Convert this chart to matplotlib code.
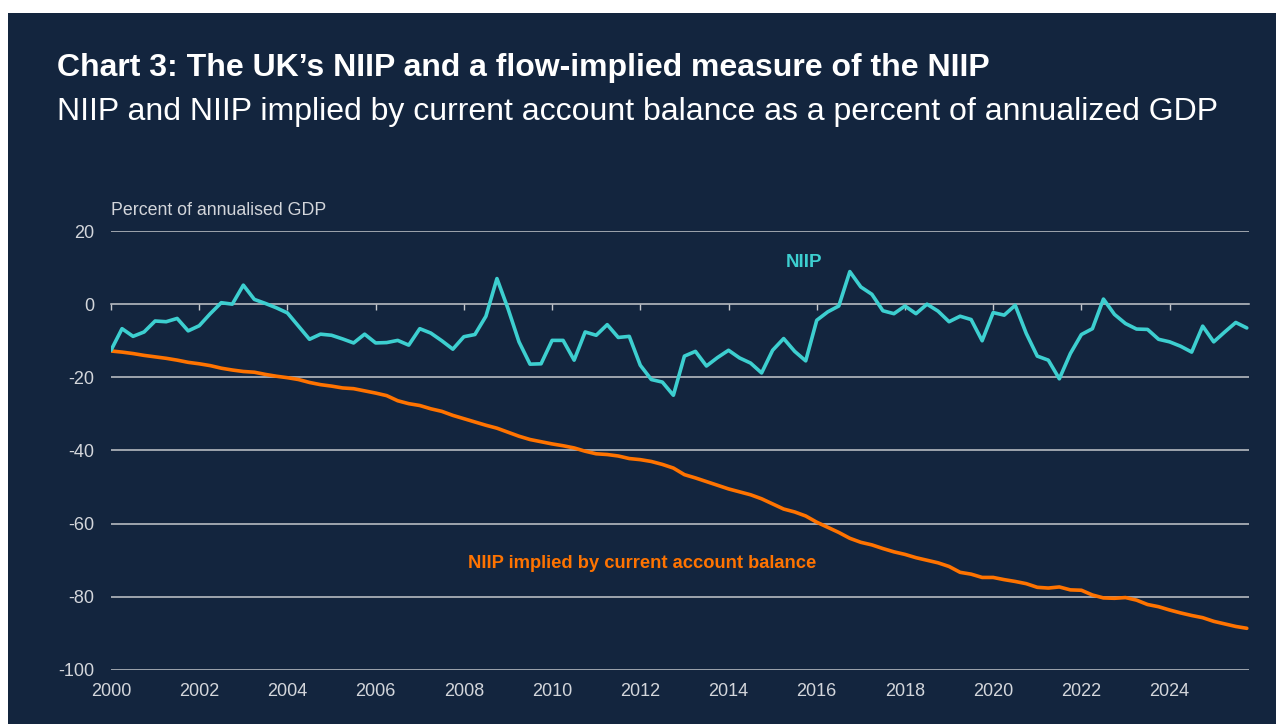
import numpy as np
import matplotlib
matplotlib.use('Agg')
import matplotlib.pyplot as plt
from matplotlib.patches import Rectangle

plt.rcParams['font.family'] = ['Liberation Sans', 'DejaVu Sans']
plt.rcParams['axes.unicode_minus'] = False

# quarterly, 2000 Q1 .. 2025 Q4
quarters = 2000 + np.arange(104) * 0.25

niip = [-12.6, -6.7, -8.8, -7.6, -4.6, -4.8, -3.9, -7.3, -5.9, -2.6,
        0.4, 0.0, 5.2, 1.3, 0.2, -1.0, -2.4, -6.0, -9.6, -8.2,
        -8.5, -9.5, -10.6, -8.2, -10.6, -10.5, -9.9, -11.2, -6.7, -7.9,
        -10.0, -12.3, -8.9, -8.3, -3.3, 7.0, -1.2, -10.3, -16.4, -16.3,
        -9.9, -9.9, -15.3, -7.6, -8.5, -5.6, -9.1, -8.8, -16.7, -20.6,
        -21.3, -24.9, -14.2, -12.9, -16.9, -14.6, -12.6, -14.7, -16.1, -18.8,
        -12.6, -9.4, -12.9, -15.5, -4.4, -2.1, -0.5, 8.9, 4.7, 2.7,
        -1.8, -2.6, -0.5, -2.6, 0.0, -1.9, -4.8, -3.3, -4.2, -10.0,
        -2.3, -3.0, -0.3, -8.0, -14.2, -15.3, -20.4, -13.5, -8.3, -6.7,
        1.4, -2.8, -5.3, -6.8, -6.9, -9.6, -10.3, -11.5, -13.1, -6.0,
        -10.3, -7.6, -5.0, -6.5]

niip_implied = [-12.8, -13.1, -13.5, -14.0, -14.4, -14.8, -15.3, -15.9, -16.3, -16.8,
                -17.5, -18.0, -18.4, -18.6, -19.2, -19.7, -20.1, -20.6, -21.4, -22.0,
                -22.4, -22.9, -23.1, -23.7, -24.3, -25.0, -26.4, -27.2, -27.7, -28.6,
                -29.3, -30.4, -31.3, -32.2, -33.1, -33.9, -35.0, -36.1, -37.0, -37.6,
                -38.2, -38.7, -39.3, -40.2, -40.9, -41.1, -41.5, -42.2, -42.5, -43.0,
                -43.8, -44.8, -46.6, -47.5, -48.5, -49.5, -50.5, -51.3, -52.1, -53.2,
                -54.6, -56.0, -56.8, -57.9, -59.6, -61.0, -62.4, -64.0, -65.1, -65.8,
                -66.8, -67.7, -68.4, -69.3, -70.0, -70.7, -71.7, -73.3, -73.8, -74.7,
                -74.7, -75.3, -75.8, -76.4, -77.4, -77.6, -77.3, -78.1, -78.2, -79.5,
                -80.3, -80.4, -80.2, -80.9, -82.1, -82.7, -83.6, -84.4, -85.1, -85.7,
                -86.7, -87.4, -88.1, -88.6]

year_ticks = list(range(2000, 2026, 2))
y_ticks = [20, 0, -20, -40, -60, -80, -100]

navy = '#13253e'
cyan = '#3dcfd0'
orange = '#ff7300'
grid = '#c4c7cc'
label_col = '#d3d6db'

fig = plt.figure(figsize=(12.76, 7.24), dpi=100, facecolor='white')
fig.patches.append(Rectangle((8 / 1276, 0), 1, 1 - 13 / 724, transform=fig.transFigure,
                             facecolor=navy, edgecolor='none', zorder=-10))

ax = fig.add_axes([111 / 1276, 54 / 724, 1138 / 1276, 439 / 724])
ax.set_facecolor(navy)
ax.set_xlim(2000, 2025.8)
ax.set_ylim(-100, 20)

for v in y_ticks:
    if v != 0:
        ax.axhline(v, color=grid, lw=1.1, zorder=1)

ax.plot(quarters, niip_implied, color=orange, lw=2.6, zorder=3, solid_capstyle='round')
ax.plot(quarters, niip, color=cyan, lw=2.6, zorder=4, solid_capstyle='round')

for s in ['top', 'right', 'left']:
    ax.spines[s].set_visible(False)
ax.spines['bottom'].set_position(('data', 0))
ax.spines['bottom'].set_color(grid)
ax.spines['bottom'].set_linewidth(1.1)
ax.spines['bottom'].set_zorder(1)
ax.set_xticks(year_ticks)
ax.tick_params(axis='x', direction='out', length=4, width=1, color=grid, labelbottom=False)
ax.set_yticks(y_ticks)
ax.tick_params(axis='y', length=0, pad=12, labelsize=13, labelcolor=label_col)

sec = ax.secondary_xaxis('bottom')
sec.set_xticks(year_ticks)
sec.tick_params(length=0, pad=9, labelsize=13, labelcolor=label_col)
sec.spines['bottom'].set_visible(False)

ax.text(0, 1.046, 'Percent of annualised GDP', transform=ax.transAxes,
        color=label_col, fontsize=12.8, va='center', ha='left')
ax.text(2015.7, 11.3, 'NIIP', color=cyan, fontsize=13.5, fontweight='bold',
        ha='center', va='center')
ax.text(2008.1, -70.8, 'NIIP implied by current account balance', color=orange,
        fontsize=13.2, fontweight='bold', ha='left', va='center')

fig.text(57 / 1276, 1 - 68 / 724, 'Chart 3: The UK\u2019s NIIP and a flow-implied measure of the NIIP',
         color='white', fontsize=23, fontweight='bold', va='center', ha='left')
fig.text(57 / 1276, 1 - 112 / 724, 'NIIP and NIIP implied by current account balance as a percent of annualized GDP',
         color='white', fontsize=23, va='center', ha='left')

fig.savefig('out.png', dpi=100, facecolor='white')
